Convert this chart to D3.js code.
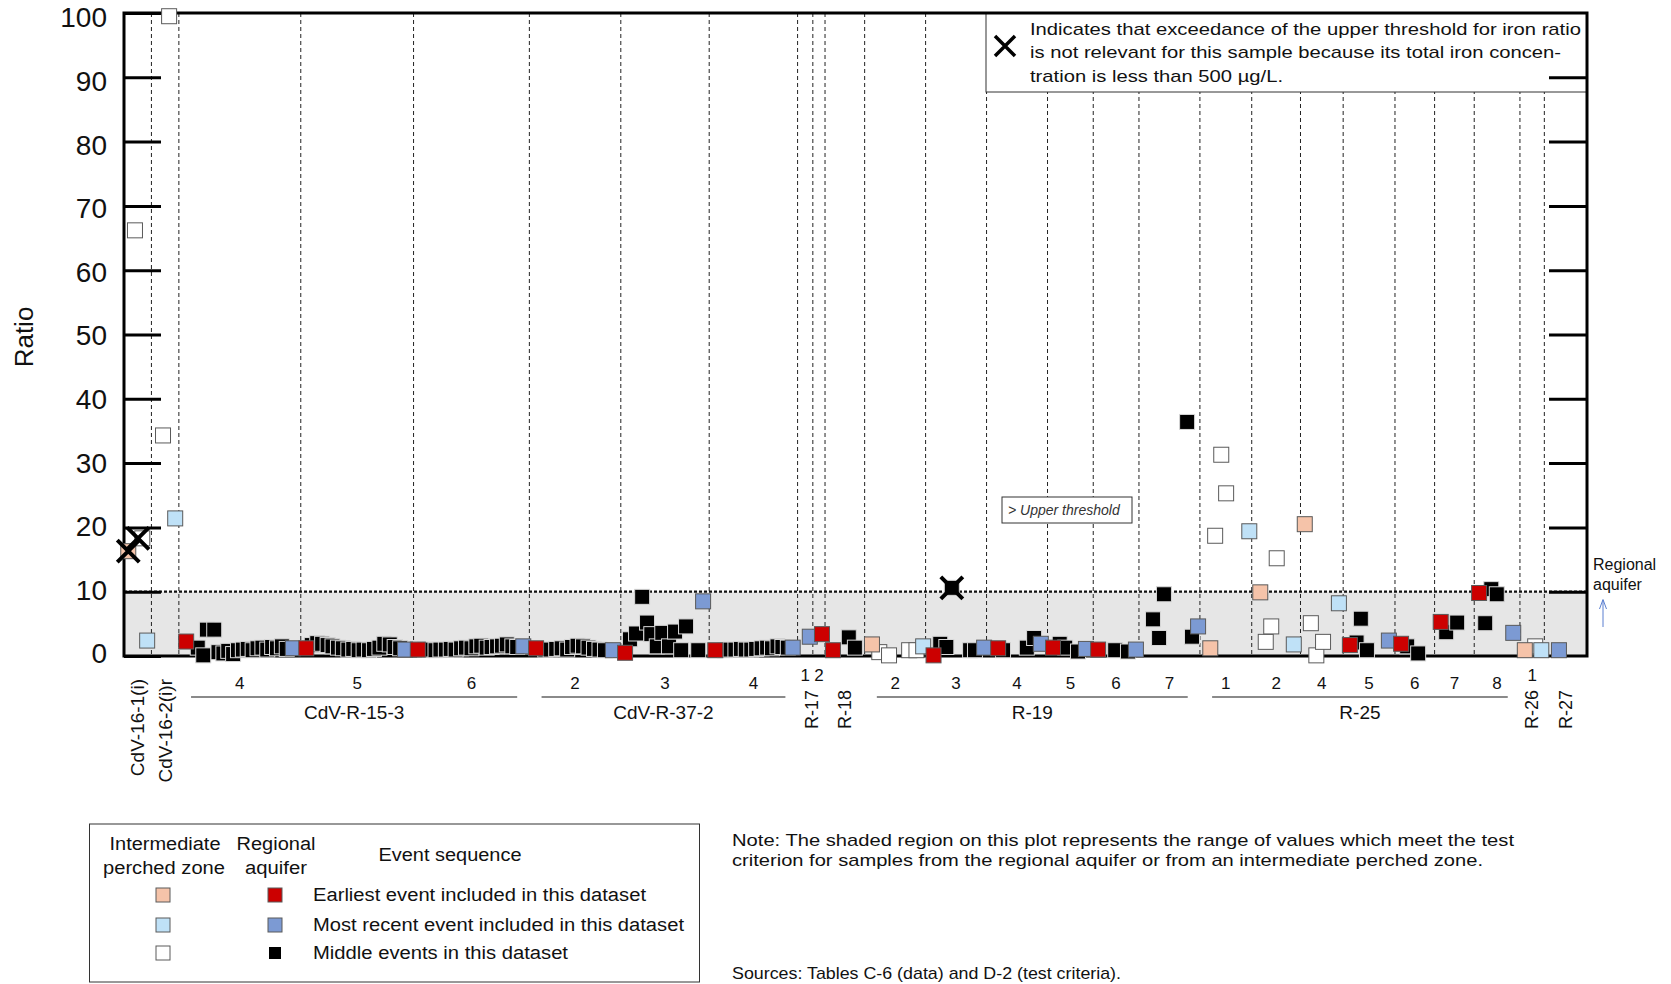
<!DOCTYPE html>
<html><head><meta charset="utf-8">
<script src="https://cdn.jsdelivr.net/npm/d3@7"></script>
<style>body{margin:0;background:#fff}svg{display:block;font-family:"Liberation Sans",Arial,sans-serif}</style>
</head><body><svg id="c" width="1671" height="984"></svg>
<script>
// ---------- DATA ----------
const yTicks = [0,10,20,30,40,50,60,70,80,90,100];
const threshold = 10;
// screen boundaries along the sample-sequence axis (sample slots)
const screenBounds = [0,4.5,9,29,47.5,66.5,81.5,96,110.5,113,115,121.5,131.5,141.5,151.5,159,166.5,176.5,185,193,200,208.5,215,221.5,229,233,240];
const screenLabels = ["","","4","5","6","2","3","4","1","2","","2","3","4","5","6","7","1","2","4","5","6","7","8","1",""];
const wellNames  = ["CdV-16-1(i)","CdV-16-2(i)r","CdV-R-15-3","CdV-R-37-2","R-17","R-18","R-19","R-25","R-26","R-27"];
const wellStart  = [0,4.5,9,66.5,110.5,115,121.5,176.5,229,233];
const wellEnd    = [4.5,9,66.5,110.5,115,121.5,176.5,229,233,240];
const wellVertical = [true,true,false,false,true,true,false,false,true,true];

// samples: [sequence position, ratio, event]  E=earliest, R=most recent, M=middle
const cdv16_1i = [[0.7,16.3,"E"],[1.8,66.2,"M"],[3.0,18.3,"M"],[3.8,2.4,"R"]];
const cdv16_2ir = [[6.4,34.3,"M"],[7.4,99.5,"M"],[8.4,21.4,"R"]];
const cdvR15_3 = [
  [10.2,2.25,"E"],[12.1,1.3,"M"],[13.0,0.1,"M"],[13.6,4.1,"M"],[14.8,4.1,"M"],
  [15.5,0.6,"M"],[16.3,0.4,"M"],[17.1,0.8,"M"],[17.9,0.3,"M"],[18.7,0.9,"M"],[19.5,1.0,"M"],[20.3,1.1,"M"],
  [21.1,0.9,"M"],[21.9,1.2,"M"],[22.7,1.3,"M"],[23.5,1.0,"M"],[24.3,1.4,"M"],[25.1,1.2,"M"],[25.9,1.5,"M"],[26.7,1.1,"M"],
  [27.7,1.2,"R"],
  [29.9,1.2,"E"],
  [30.8,1.7,"M"],[31.7,2.0,"M"],[32.5,1.9,"M"],[33.4,1.7,"M"],[34.2,1.5,"M"],[35.1,1.3,"M"],[35.9,1.2,"M"],[36.8,1.0,"M"],
  [37.6,1.1,"M"],[38.5,0.9,"M"],[39.3,1.0,"M"],[40.2,0.9,"M"],[41.0,1.1,"M"],[41.9,1.3,"M"],[42.7,1.9,"M"],[43.6,1.8,"M"],
  [44.4,1.4,"M"],[45.3,1.2,"M"],
  [46.1,1.0,"R"],
  [48.2,1.0,"E"],
  [49.4,1.0,"M"],[50.2,1.0,"M"],[51.1,0.9,"M"],[51.9,1.0,"M"],[52.8,1.0,"M"],[53.6,1.1,"M"],[54.4,1.0,"M"],[55.3,1.2,"M"],
  [56.1,1.3,"M"],[57.0,1.2,"M"],[57.8,1.5,"M"],[58.6,1.6,"M"],[59.5,1.3,"M"],[60.3,1.4,"M"],[61.2,1.5,"M"],[62.0,1.6,"M"],
  [62.8,1.8,"M"],[63.7,1.5,"M"],[64.5,1.4,"M"],
  [65.5,1.5,"R"]
];
const cdvR37_2 = [
  [67.6,1.2,"E"],
  [69.1,1.0,"M"],[70.0,1.0,"M"],[70.9,1.1,"M"],[71.8,1.2,"M"],[72.7,1.0,"M"],[73.5,1.4,"M"],[74.4,1.6,"M"],[75.3,1.5,"M"],
  [76.2,1.3,"M"],[77.1,1.1,"M"],[78.0,1.0,"M"],[78.9,0.9,"M"],
  [80.2,0.9,"R"],
  [82.2,0.5,"E"],
  [83.0,2.6,"M"],[84.0,3.5,"M"],[85.0,9.2,"M"],[85.8,5.2,"M"],[86.5,3.4,"M"],[87.4,1.5,"M"],[88.3,3.6,"M"],[89.4,1.5,"M"],
  [90.4,3.8,"M"],[91.4,0.9,"M"],[92.2,4.6,"M"],[94.2,0.9,"M"],
  [95.0,8.5,"R"],
  [97.0,0.9,"E"],
  [98.6,0.9,"M"],[99.5,1.0,"M"],[100.3,1.0,"M"],[101.2,1.1,"M"],[102.0,1.0,"M"],[102.9,1.0,"M"],[103.7,1.1,"M"],[104.6,1.2,"M"],
  [105.5,1.3,"M"],[106.3,1.2,"M"],[107.2,1.5,"M"],[108.0,1.4,"M"],[108.9,1.3,"M"],
  [109.7,1.3,"R"]
];
const r17 = [[112.5,3.0,"R"],[114.5,3.4,"E"]];
const r18 = [[116.3,0.9,"E"],[118.9,2.9,"M"],[119.9,1.3,"M"]];
const r19_int = [[122.7,1.8,"E"],[123.9,0.6,"M"],[125.5,0.1,"M"],[128.8,0.9,"M"],[130.0,0.9,"M"],[131.1,1.5,"R"]];
const r19_reg = [
  [132.8,0.1,"E"],[133.9,1.9,"M"],[134.9,1.4,"M"],[135.8,10.6,"M"],[138.8,0.9,"M"],[139.6,0.9,"M"],[141.1,1.3,"R"],
  [143.4,1.2,"E"],[144.2,0.9,"M"],[148.1,1.3,"M"],[149.3,2.8,"M"],[150.4,1.9,"R"],
  [152.4,1.3,"E"],[153.5,1.9,"M"],[154.4,1.3,"M"],[156.5,0.7,"M"],[157.8,1.1,"R"],
  [159.8,1.0,"E"],[162.6,0.9,"M"],[164.7,0.7,"M"],[166.0,1.0,"R"],
  [168.8,5.7,"M"],[169.8,2.8,"M"],[170.6,9.6,"M"],[174.4,36.4,"M"],[175.2,3.0,"M"],[176.2,4.6,"R"]
];
const r25_int = [
  [178.2,1.2,"E"],[179.0,18.7,"M"],[180.0,31.3,"M"],[180.8,25.3,"M"],[184.6,19.4,"R"],
  [186.4,9.9,"E"],[187.3,2.2,"M"],[188.2,4.6,"M"],[189.1,15.2,"M"],[191.9,1.8,"R"],
  [193.7,20.5,"E"],[194.7,5.1,"M"],[195.6,0.1,"M"],[196.7,2.2,"M"],[199.3,8.2,"R"]
];
const r25_reg = [
  [201.1,1.7,"E"],[202.2,2.1,"M"],[202.9,5.8,"M"],[203.9,0.9,"M"],[207.5,2.4,"R"],
  [209.5,1.9,"E"],[210.5,1.5,"M"],[212.3,0.4,"M"],
  [216.0,5.3,"E"],[216.9,3.7,"M"],[218.7,5.2,"M"],
  [222.3,9.8,"E"],[223.3,5.1,"M"],[224.3,10.4,"M"],[225.2,9.6,"M"],[227.9,3.6,"R"]
];
const r26 = [[229.8,0.9,"E"],[231.5,1.5,"M"],[232.5,0.9,"R"]];
const r27 = [[235.4,0.9,"R"]];
// samples whose upper-threshold exceedance is not relevant (total Fe < 500 ug/L)
const crossMarks = [[0.7,16.3],[2.3,18.3],[135.8,10.6]];

const intermediateSets = [cdv16_1i, cdv16_2ir, r19_int, r25_int, r26];
const regionalSets = [cdvR15_3, cdvR37_2, r17, r18, r19_reg, r25_reg, r27];

const colors = {
  I:{E:"#f5c3a9",R:"#bfe1f7",M:"#ffffff"},
  A:{E:"#cc0000",R:"#7c9ad3",M:"#000000"}
};

// ---------- CHART ----------
const svg = d3.select("#c");
const x = d3.scaleLinear().domain([0,240]).range([124,1587]);
const y = d3.scaleLinear().domain([0,100]).range([656,13]);

// shaded region
svg.append("rect").attr("x",x(0)).attr("y",y(threshold)).attr("width",x(240)-x(0))
  .attr("height",y(0)-y(threshold)).attr("fill","#e6e6e6");

// screen separators
svg.append("g").selectAll("line").data(screenBounds.slice(1,-1)).join("line")
  .attr("x1",d=>x(d)).attr("x2",d=>x(d)).attr("y1",y(100)).attr("y2",y(0))
  .attr("stroke","#222").attr("stroke-width",1).attr("stroke-dasharray","4,3");

// threshold line
svg.append("line").attr("x1",x(0)).attr("x2",x(240)+1).attr("y1",y(threshold)).attr("y2",y(threshold))
  .attr("stroke","#111").attr("stroke-width",2.2).attr("stroke-dasharray","3,2");

// X-legend box (top right)
const lb = svg.append("g");
lb.append("rect").attr("x",986).attr("y",13).attr("width",601).attr("height",79)
  .attr("fill","#fff").attr("stroke","#333").attr("stroke-width",1);
lb.append("path").attr("d","M995,36L1015,56M1015,36L995,56").attr("stroke","#000").attr("stroke-width",3.5).attr("fill","none");
const xlLines = [["Indicates that exceedance of the upper threshold for iron ratio",29,551],
                 ["is not relevant for this sample because its total iron concen-",52,531],
                 ["tration is less than 500 µg/L.",76,253]];
lb.selectAll("text").data(xlLines).join("text").attr("x",1030).attr("y",d=>d[1])
  .attr("dy","0.35em").attr("font-size",17).attr("fill","#111")
  .attr("textLength",d=>d[2]).attr("lengthAdjust","spacingAndGlyphs").text(d=>d[0]);

// axes
const yl = svg.append("g").attr("transform",`translate(${x(0)},0)`)
  .call(d3.axisLeft(y).tickValues(yTicks).tickSize(-37).tickSizeOuter(0).tickPadding(17));
yl.select(".domain").remove();
yl.selectAll(".tick line").attr("stroke","#000").attr("stroke-width",3);
yl.selectAll(".tick text").attr("font-size",28).attr("fill","#111").attr("dy","0.35em")
  .attr("y",d=>-3+0.07*d)
  .attr("font-family","Liberation Sans, Arial, sans-serif");
const yr = svg.append("g").attr("transform",`translate(${x(240)},0)`)
  .call(d3.axisRight(y).tickValues(yTicks.slice(1,-1)).tickSize(-38).tickSizeOuter(0).tickFormat(""));
yr.select(".domain").remove();
yr.selectAll(".tick line").attr("stroke","#000").attr("stroke-width",3);

// frame
svg.append("rect").attr("x",x(0)).attr("y",y(100)).attr("width",x(240)-x(0)).attr("height",y(0)-y(100))
  .attr("fill","none").attr("stroke","#000").attr("stroke-width",3);

// y label
svg.append("text").attr("transform",`translate(24,337) rotate(-90)`).attr("text-anchor","middle")
  .attr("dy","0.35em").attr("font-size",26).attr("fill","#111").text("Ratio");

// upper threshold label
svg.append("rect").attr("x",1002).attr("y",497).attr("width",130).attr("height",26)
  .attr("fill","#fff").attr("stroke","#333").attr("stroke-width",1);
svg.append("text").attr("x",1008).attr("y",510).attr("dy","0.35em").attr("font-size",14)
  .attr("font-style","italic").attr("fill","#333").text("> Upper threshold");

// regional aquifer annotation
svg.append("text").attr("x",1593).attr("y",564).attr("dy","0.35em").attr("font-size",16).attr("fill","#111").text("Regional");
svg.append("text").attr("x",1593).attr("y",584).attr("dy","0.35em").attr("font-size",16).attr("fill","#111").text("aquifer");
svg.append("path").attr("d","M1603,627V600M1599.5,609L1603,599.5L1606.5,609")
  .attr("stroke","#5b7fd0").attr("stroke-width",1).attr("fill","none");

// points
function toPoints(set, zone){
  return set.map(d=>({p:d[0],v:d[1],k:d[2],z:zone}));
}
let pts = [];
intermediateSets.forEach(s=>pts=pts.concat(toPoints(s,"I")));
regionalSets.forEach(s=>pts=pts.concat(toPoints(s,"A")));
const order = {M:0,E:1,R:1};
pts.sort((a,b)=>order[a.k]-order[b.k] || a.p-b.p);
const isBlack = d=>d.z==="A"&&d.k==="M";
svg.append("g").selectAll("rect").data(pts).join("rect")
  .attr("x",d=>x(d.p)-7.5)
  .attr("y",d=>y(d.v)-7.5)
  .attr("width",15)
  .attr("height",15)
  .attr("fill",d=>colors[d.z][d.k])
  .attr("stroke",d=>isBlack(d)?"#d8d8d8":"#5a5a5a")
  .attr("stroke-width",1);

// cross marks
svg.append("g").selectAll("path").data(crossMarks).join("path")
  .attr("d",d=>{const cx=x(d[0]),cy=y(d[1]),h=11;return `M${cx-h},${cy-h}L${cx+h},${cy+h}M${cx+h},${cy-h}L${cx-h},${cy+h}`;})
  .attr("stroke","#000").attr("stroke-width",4).attr("fill","none");

// screen labels
const scr = screenLabels.map((l,i)=>({l, c:(screenBounds[i]+screenBounds[i+1])/2, i})).filter(d=>d.l!=="");
const raisedWells = [4,8];
function wellOf(c){ return wellStart.findIndex((s,i)=>c>=s && c<wellEnd[i]); }
svg.append("g").selectAll("text").data(scr).join("text")
  .attr("x",d=>x(d.c)).attr("y",d=>raisedWells.includes(wellOf(d.c))?675:683)
  .attr("dy","0.35em").attr("text-anchor","middle").attr("font-size",17).attr("fill","#111").text(d=>d.l);

// well labels
const wells = wellNames.map((n,i)=>({n, s:wellStart[i], e:wellEnd[i], v:wellVertical[i], i}));
const hw = wells.filter(d=>!d.v);
svg.append("g").selectAll("line").data(hw).join("line")
  .attr("x1",d=>x(d.s+2)).attr("x2",d=>x(d.e-2)).attr("y1",697).attr("y2",697)
  .attr("stroke","#8a8a8a").attr("stroke-width",2);
svg.append("g").selectAll("text").data(hw).join("text")
  .attr("x",d=>x((d.s+d.e)/2)).attr("y",712).attr("dy","0.35em").attr("text-anchor","middle")
  .attr("font-size",19).attr("fill","#111").text(d=>d.n);
const vw = wells.filter(d=>d.v);
svg.append("g").selectAll("text").data(vw).join("text")
  .attr("transform",d=>`translate(${x((d.s+d.e)/2)},${d.i<2?679:690}) rotate(-90)`)
  .attr("dy","0.35em").attr("text-anchor","end")
  .attr("font-size",d=>d.i<2?19:18).attr("fill","#111").text(d=>d.n);

// bottom legend
const lg = svg.append("g");
lg.append("rect").attr("x",89.5).attr("y",824).attr("width",610).attr("height",158)
  .attr("fill","none").attr("stroke","#333").attr("stroke-width",1);
const hdr = [["Intermediate",165,844,111],["perched zone",164,868,122],["Regional",276,844,79],["aquifer",276,868,62],["Event sequence",450,855,143]];
lg.selectAll("text.h").data(hdr).join("text").attr("class","h").attr("x",d=>d[1]).attr("y",d=>d[2])
  .attr("dy","0.35em").attr("text-anchor","middle").attr("font-size",18).attr("fill","#111")
  .attr("textLength",d=>d[3]).attr("lengthAdjust","spacingAndGlyphs").text(d=>d[0]);
const rows = [["E","Earliest event included in this dataset",895,333],
              ["R","Most recent event included in this dataset",925,371],
              ["M","Middle events in this dataset",953,255]];
rows.forEach(r=>{
  lg.append("rect").attr("x",156).attr("y",r[2]-7).attr("width",14).attr("height",14)
    .attr("fill",colors.I[r[0]]).attr("stroke","#5a5a5a");
  const s = r[0]==="M"?12:14;
  lg.append("rect").attr("x",275-s/2).attr("y",r[2]-s/2).attr("width",s).attr("height",s)
    .attr("fill",colors.A[r[0]]).attr("stroke",r[0]==="M"?"none":"#5a5a5a");
  lg.append("text").attr("x",313).attr("y",r[2]).attr("dy","0.35em").attr("font-size",18).attr("fill","#111")
    .attr("textLength",r[3]).attr("lengthAdjust","spacingAndGlyphs").text(r[1]);
});

// notes
const notes = [["Note: The shaded region on this plot represents the range of values which meet the test",840,782],
               ["criterion for samples from the regional aquifer or from an intermediate perched zone.",860,751],
               ["Sources: Tables C-6 (data) and D-2 (test criteria).",973,389]];
svg.append("g").selectAll("text").data(notes).join("text").attr("x",732).attr("y",d=>d[1])
  .attr("dy","0.35em").attr("font-size",17).attr("fill","#111")
  .attr("textLength",d=>d[2]).attr("lengthAdjust","spacingAndGlyphs").text(d=>d[0]);
</script></body></html>
